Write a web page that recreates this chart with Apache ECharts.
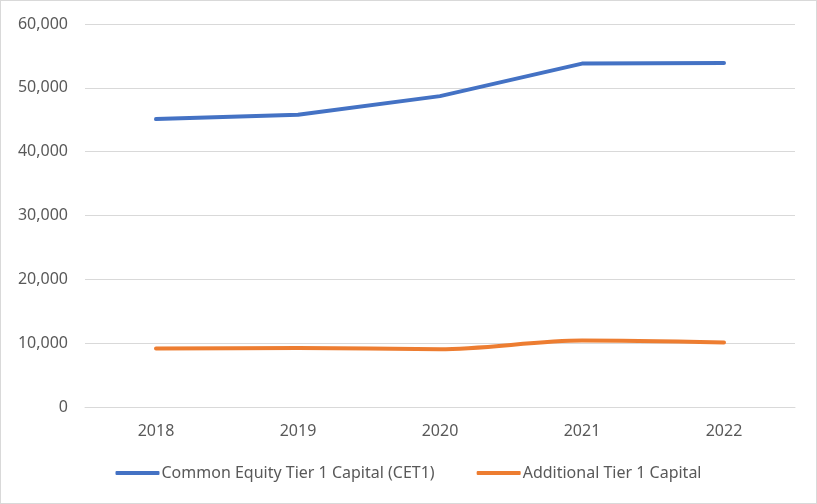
<!DOCTYPE html>
<html><head><meta charset="utf-8">
<script src="https://cdn.jsdelivr.net/npm/echarts@6/dist/echarts.min.js"></script>
<style>html,body{margin:0;padding:0;background:#fff}#c{width:817px;height:504px;box-sizing:border-box;border:1px solid #D9D9D9}</style>
</head><body><div id="c"></div>
<script>
const categories = ['2018','2019','2020','2021','2022'];
const cet1 = [45100, 45800, 48700, 53800, 53900];
const at1 = [9150, 9250, 9050, 10400, 10100];
const seriesNames = ['Common Equity Tier 1 Capital (CET1)', 'Additional Tier 1 Capital'];
const chart = echarts.init(document.getElementById('c'));
const font = 'Noto Sans';
chart.setOption({
  animation: false,
  grid: {left: 84, right: 21, top: 23, bottom: 96},
  legend: {
    top: 459, left: 'center', itemGap: 42, itemWidth: 44, itemHeight: 4,
    icon: 'roundRect',
    textStyle: {color: '#595959', fontSize: 16, fontFamily: font, padding: [0,0,0,-3]},
    data: seriesNames
  },
  xAxis: {
    type: 'category', data: categories, boundaryGap: true,
    axisLine: {lineStyle: {color: '#D9D9D9'}}, axisTick: {show: false},
    axisLabel: {color: '#595959', fontSize: 16, fontFamily: font, margin: 16}
  },
  yAxis: {
    type: 'value', min: 0, max: 60000, interval: 10000,
    axisLine: {show: false}, axisTick: {show: false},
    splitLine: {lineStyle: {color: '#D9D9D9', width: 1}},
    axisLabel: {color: '#595959', fontSize: 16, fontFamily: font, margin: 17,
      formatter: v => v.toLocaleString('en-US')}
  },
  series: [
    {name: seriesNames[0], type: 'line', data: cet1, symbol: 'none', smooth: false,
     lineStyle: {color: '#4472C4', width: 4, cap: 'round', join: 'round'}, itemStyle: {color: '#4472C4'}},
    {name: seriesNames[1], type: 'line', data: at1, symbol: 'none', smooth: 0.3,
     lineStyle: {color: '#ED7D31', width: 4, cap: 'round', join: 'round'}, itemStyle: {color: '#ED7D31'}}
  ]
});
</script></body></html>
